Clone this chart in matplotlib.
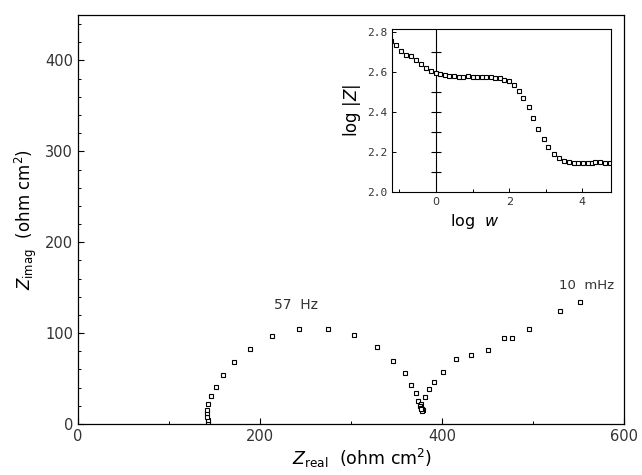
import matplotlib
matplotlib.use("Agg")
import matplotlib.pyplot as plt
from matplotlib.ticker import MultipleLocator

# Nyquist data (ohm cm^2)
z_real = [143, 143, 142, 142, 142, 143, 146, 151.6, 159.7, 171.4, 189, 213.5, 243,
          275, 303.7, 329, 346.5, 359.3, 366.3, 371, 374, 377, 376, 377, 378, 379, 378, 377,
          381.3, 385.7, 391.2, 401.5, 415, 431.9, 451, 468.5, 477.3, 496, 529.7, 551.6]
z_imag = [1.4, 4.4, 8, 11.7, 15.4, 22, 30.8, 41, 53.8, 68, 83, 96.7, 104.8,
          105, 97.8, 84.3, 69.6, 55.7, 42.9, 33.7, 25.6, 22, 20, 18, 16, 15, 14, 16,
          29.3, 38, 45.8, 57.5, 71, 75.8, 81.3, 94.9, 94.9, 104.4, 124.2, 134]

# Bode inset data
log_w = [-1.215, -1.08, -0.95, -0.82, -0.68, -0.535, -0.40, -0.26, -0.14, 0.0, 0.12, 0.245,
         0.37, 0.5, 0.62, 0.75, 0.87, 1.0, 1.12, 1.25, 1.37, 1.5, 1.62, 1.75, 1.87, 2.0,
         2.12, 2.26, 2.39, 2.53, 2.66, 2.79, 2.95, 3.07, 3.22, 3.35, 3.50, 3.64, 3.76,
         3.89, 4.02, 4.15, 4.27, 4.34, 4.47, 4.62, 4.76]
log_z = [2.754, 2.733, 2.705, 2.687, 2.679, 2.659, 2.639, 2.621, 2.607, 2.597, 2.592, 2.585,
         2.579, 2.578, 2.577, 2.577, 2.578, 2.576, 2.576, 2.577, 2.577, 2.575, 2.572, 2.568,
         2.562, 2.555, 2.533, 2.503, 2.470, 2.425, 2.369, 2.315, 2.266, 2.225, 2.192, 2.170,
         2.156, 2.148, 2.144, 2.144, 2.144, 2.146, 2.146, 2.151, 2.148, 2.146, 2.143]

main_xticks = [0, 200, 400, 600]
main_yticks = [0, 100, 200, 300, 400]
inset_xticks = [0, 2, 4]
inset_yticks = [2.0, 2.2, 2.4, 2.6, 2.8]
inset_ytick_labels = ["2.0", "2.2", "2.4", "2.6", "2.8"]

fig = plt.figure(figsize=(6.42, 4.75), dpi=100)
ax = fig.add_axes([0.1215, 0.1074, 0.8505, 0.861])
ax.plot(z_real, z_imag, linestyle="none", marker="s", markersize=3.0,
        markerfacecolor="white", markeredgecolor="black", markeredgewidth=0.8)
ax.set_xlim(0, 600)
ax.set_ylim(0, 450)
ax.set_xticks(main_xticks)
ax.set_yticks(main_yticks)
ax.xaxis.set_minor_locator(MultipleLocator(100))
ax.yaxis.set_minor_locator(MultipleLocator(20))
ax.tick_params(which="both", direction="in", labelsize=10.5, colors="black",
               labelcolor="#333333")
ax.tick_params(which="major", length=4, width=0.8)
ax.tick_params(which="minor", length=2, width=0.7)
for s in ax.spines.values():
    s.set_linewidth(0.9)
ax.set_xlabel(r"$Z_{\rm real}$  (ohm cm$^2$)", fontsize=12.5, labelpad=1)
ax.xaxis.set_label_coords(0.52, -0.055)
ax.set_ylabel(r"$Z_{\rm imag}$  (ohm cm$^2$)", fontsize=12, labelpad=4)
ax.text(215, 126, "57  Hz", fontsize=10, color="#333333")
ax.text(528, 148, "10  mHz", fontsize=9.5, color="#333333")

# inset
ins = fig.add_axes([0.6106, 0.5958, 0.3411, 0.3432])
ins.set_facecolor("white")
ins.plot(log_w, log_z, linestyle="none", marker="s", markersize=3.0,
         markerfacecolor="white", markeredgecolor="black", markeredgewidth=0.8)
ins.set_xlim(-1.2, 4.78)
ins.set_ylim(2.0, 2.815)
ins.set_xticks(inset_xticks)
ins.set_yticks(inset_yticks)
ins.set_yticklabels(inset_ytick_labels, family="DejaVu Sans Mono")
ins.xaxis.set_minor_locator(MultipleLocator(1))
ins.tick_params(which="both", direction="in", labelsize=8, labelcolor="#333333")
ins.tick_params(which="major", length=3, width=0.7)
ins.tick_params(which="minor", length=2.5, width=0.7)
ins.axvline(0, color="black", linewidth=0.8, zorder=1)
ins.plot([0] * 7, [2.1, 2.2, 2.3, 2.4, 2.5, 2.6, 2.7], linestyle="none",
         marker="_", markersize=7, color="black", markeredgewidth=0.8, zorder=1)
for s in ins.spines.values():
    s.set_linewidth(0.8)
ins.set_xlabel(r"log  $w$", fontsize=11.5)
ins.xaxis.set_label_coords(0.38, -0.12)
ins.set_ylabel(r"log $|Z|$", fontsize=12, labelpad=3)

fig.savefig("out.png", dpi=100)
